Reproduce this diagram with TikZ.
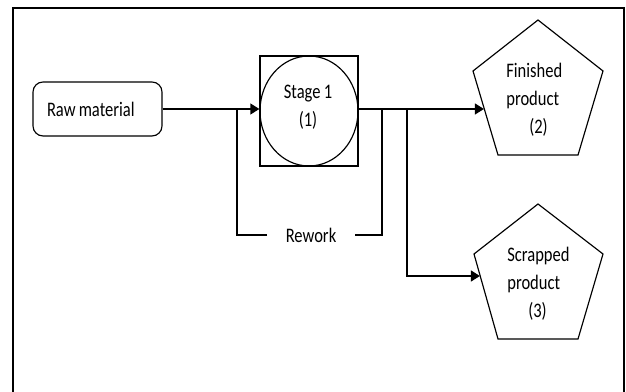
\documentclass[tikz,border=0pt]{standalone}
\usepackage{fontspec}
\setmainfont{Carlito}[FakeStretch=0.8,WordSpace=0.85]
\usetikzlibrary{arrows.meta,shapes.geometric}
\begin{document}
\begin{tikzpicture}[x=0.6pt,y=-0.6pt,
  lbl/.style={font=\fontsize{12.4}{16.8}\selectfont, inner sep=0pt},
  flow/.style={line width=1.2pt, -{Triangle[length=5.5pt,width=6.5pt]}},
  link/.style={line width=0.7pt},
  frame/.style={line width=1.6pt},
]
\useasboundingbox (0,0) rectangle (626,392);
\draw[frame] (13,393) -- (13,8) -- (624,8) -- (624,393);

% raw material
\node[draw, link, rounded corners=6pt, minimum width=77.4pt, minimum height=32.4pt,
      inner sep=0pt, font=\fontsize{12.4}{14}\selectfont]
      (raw) at (97.5,109) {\makebox[60.6pt][l]{Raw material}};

% stage 1
\node[draw, link, minimum width=58.8pt, minimum height=66pt, inner sep=0pt] (stage) at (309,111) {};
\node[draw, link, ellipse, minimum width=58.8pt, minimum height=66pt, inner sep=0pt] (circ) at (stage.center) {};
\node[lbl, align=center] (stagetxt) at (308,107.5) {Stage 1\\(1)};

% finished product pentagon
\draw[link] (538,20) -- (603,71) -- (578,155) -- (498,155) -- (473,71) -- cycle;
\node[lbl, align=left, anchor=west] (fin) at (506,100) {Finished\\product\\\hspace*{13.8pt}(2)};
\coordinate (fin-in) at (484,109);

% scrapped product pentagon
\draw[link] (538,204) -- (603,254) -- (578,339) -- (498,339) -- (474,254) -- cycle;
\node[lbl, align=left, anchor=west] (scr) at (507,284) {Scrapped\\product\\\hspace*{12.6pt}(3)};
\coordinate (scr-in) at (480,276);

% junctions
\coordinate (j1) at (237,109);
\coordinate (j2) at (382,109);
\coordinate (j3) at (407,109);

% main flow
\draw[flow] (raw.east) -- (raw.east -| stage.west);
\draw[flow] (raw.east -| stage.east) -- (fin-in);
\draw[flow] (j3) |- (scr-in);

% rework loop
\node[lbl, inner xsep=11pt] (rw) at (311,235) {Rework};
\draw[link] (j2) |- (rw.east);
\draw[link] (rw.west) -| (j1);
\end{tikzpicture}
\end{document}
